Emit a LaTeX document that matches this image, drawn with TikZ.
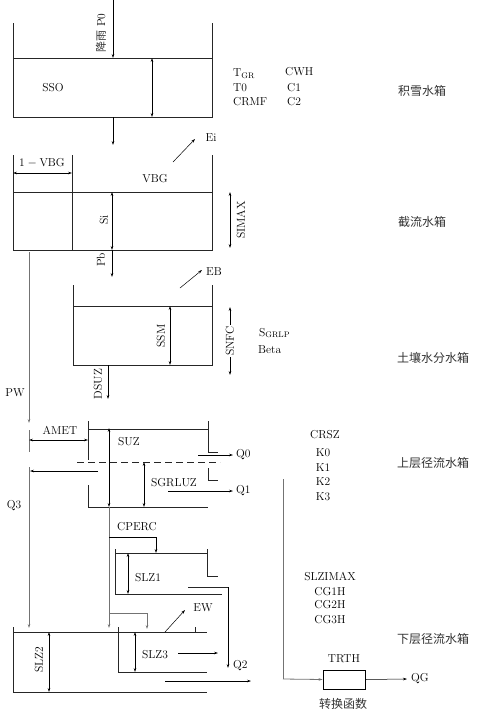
\documentclass[tikz,border=0pt]{standalone}
\usepackage{fontspec}
\newfontfamily\cjk{Noto Sans CJK SC}
\usetikzlibrary{arrows.meta}
\tikzset{
  wall/.style={line width=0.9pt, black!85},
  gline/.style={line width=0.8pt, black!55},
  arr/.style={-{Stealth[length=4pt,width=2.6pt]}, line width=0.5pt},
  garr/.style={-{Stealth[length=4pt,width=2.6pt]}, line width=0.8pt, black!55},
  dbl/.style={{Stealth[length=4pt,width=2.6pt]}-{Stealth[length=4pt,width=2.6pt]}, line width=0.5pt},
  lbl/.style={font=\fontsize{11.5}{12}\selectfont, inner sep=0pt},
  cn/.style={font=\cjk\fontsize{12}{13}\selectfont, inner sep=0pt, anchor=west, text=black!80}
}
\begin{document}
\begin{tikzpicture}[x=1pt,y=-1pt]
\useasboundingbox (0,0) rectangle (477,710);
% ---------- snow box
\draw[wall] (13,23) -- (13,117) -- (212,117) -- (212,23);
\draw[wall] (13,58) -- (212,58);
\coordinate (rain0) at (113,0);
\coordinate (rain1) at (113,58);
\draw[arr] (rain0) -- (rain1);
\node[lbl, rotate=90] (p0) at (101,33) {{\cjk\fontsize{11}{12}\selectfont\color{black!80}降雨} P0};
\node[lbl] (sso) at (53,88) {SSO};
\draw[dbl] (152,58) -- (152,117);
\draw[arr] (113,117) -- (113,145);
\node[lbl, anchor=west] (tgr) at (233,74) {T$_{\mathrm{GR}}$};
\node[lbl, anchor=west] (t0) at (233,88) {T0};
\node[lbl, anchor=west] (crmf) at (233,102) {CRMF};
\node[lbl, anchor=west] (cwh) at (285,72) {CWH};
\node[lbl, anchor=west] (c1) at (287,88) {C1};
\node[lbl, anchor=west] (c2) at (287,102) {C2};
\node[cn] (snowlab) at (398,91) {积雪水箱};
% ---------- interception box
\draw[wall] (13,155) -- (13,250) -- (212,250) -- (212,155);
\draw[wall] (13,192) -- (212,192);
\draw[wall] (72,155) -- (72,250);
\draw[dbl] (13,173) -- (72,173);
\node[lbl] (vbg1) at (42,163) {1${}-{}$VBG};
\node[lbl] (vbg) at (155,179) {VBG};
\draw[dbl] (112,192) -- (112,250);
\node[lbl, rotate=90] (si) at (104,220) {Si};
\draw[arr] (112,250) -- (112,277);
\node[lbl, rotate=90] (pb) at (101,260) {Pb};
\draw[dbl] (230,192) -- (230,248);
\node[lbl, rotate=90] (simax) at (241,220) {SIMAX};
\draw[arr] (173,162) -- (195,139);
\node[lbl] (ei) at (211,138) {Ei};
\node[cn] (intlab) at (398,222) {截流水箱};
% ---------- soil box
\draw[wall] (73,285) -- (73,365) -- (212,365) -- (212,285);
\draw[wall] (73,306) -- (212,306);
\draw[dbl] (170,306) -- (170,365);
\node[lbl, rotate=90] (ssm) at (161,336) {SSM};
\draw[dbl] (230,307) -- node[lbl, rotate=90, fill=white, inner xsep=1.5pt] (snfc) {SNFC} (230,375);
\draw[arr] (180,288) -- (202,270);
\node[lbl] (eb) at (214,272) {EB};
\node[lbl, anchor=west] (sgrlp) at (259,333) {S$_{\mathrm{GRLP}}$};
\node[lbl, anchor=west] (beta) at (258,350) {Beta};
\draw[arr] (108,365) -- (108,399);
\node[lbl, rotate=90] (dsuz) at (98,384) {DSUZ};
\node[cn] (soillab) at (397,358) {土壤水分水箱};
% ---------- PW / Q3 path
\draw[garr] (29,252) -- (29,423);
\node[lbl] (pw) at (15,393) {PW};
\draw[gline] (29,430) -- (29,452);
\draw[garr] (29,467) -- (29,628);
\node[lbl] (q3) at (14,506) {Q3};
\draw[dbl] (29,440) -- (88,440);
\node[lbl] (amet) at (60,430) {AMET};
\draw[arr] (98,471) -- (30,471);
% ---------- upper zone box
\draw[wall] (88,421) -- (88,460);
\draw[wall] (88,485) -- (88,507) -- (208,507);
\draw[wall] (88,429) -- (208,429);
\draw[wall] (208,421) -- (208,452) -- (218,452);
\draw[wall, dashed, dash pattern=on 7pt off 4pt] (77,462) -- (220,462);
\draw[wall] (208,468) -- (208,480) -- (218,480);
\draw[dbl] (109,428) -- (109,507);
\draw[garr] (109,507) -- (109,628);
\node[lbl] (suz) at (129,442) {SUZ};
\draw[dbl] (144,462) -- (144,507);
\node[lbl] (sgrluz) at (174,483) {SGRLUZ};
\draw[arr] (198,455) -- (233,455);
\node[lbl, anchor=west] (q0) at (236,455) {Q0};
\draw[arr] (168,491) -- (233,491);
\node[lbl, anchor=west] (q1) at (236,491) {Q1};
\node[lbl] (crsz) at (325,435) {CRSZ};
\node[lbl] (k0) at (323,453) {K0};
\node[lbl] (k1) at (323,468) {K1};
\node[lbl] (k2) at (323,482) {K2};
\node[lbl] (k3) at (323,497) {K3};
\node[cn] (uplab) at (397,463) {上层径流水箱};
% ---------- lower zone SLZ1
\node[lbl] (cperc) at (137,527) {CPERC};
\draw[arr] (109,537) -- (156,537) -- (156,553);
\draw[wall] (115,549) -- (115,594) -- (222,594);
\draw[wall] (115,553) -- (207,553);
\draw[wall] (207,549) -- (207,576) -- (218,576);
\draw[dbl] (128,553) -- (128,594);
\node[lbl] (slz1) at (148,578) {SLZ1};
\draw[wall] (188,587) -- (228,587);
\draw[arr, line width=0.8pt] (228,587) -- (228,668);
\node[lbl, anchor=west] (q2) at (233,666) {Q2};
\draw[garr] (109,613) -- (147,613) -- (147,629);
% ---------- SLZ2 box
\draw[wall] (13,627) -- (13,692) -- (207,692);
\draw[wall] (13,632) -- (207,632);
\draw[wall] (195,627) -- (195,632);
\draw[wall] (118,627) -- (118,672) -- (207,672);
\draw[dbl] (135,632) -- (135,672);
\node[lbl] (slz3) at (155,655) {SLZ3};
\draw[arr] (178,653) -- (218,653);
\draw[arr] (165,681) -- (251,681);
\draw[dbl] (49,632) -- (49,692);
\node[lbl, rotate=90] (slz2) at (39,660) {SLZ2};
\draw[arr] (165,632) -- (185,610);
\node[lbl] (ew) at (203,608) {EW};
\node[lbl] (slzimax) at (330,577) {SLZIMAX};
\node[lbl] (cg1h) at (330,592) {CG1H};
\node[lbl] (cg2h) at (330,605) {CG2H};
\node[lbl] (cg3h) at (330,620) {CG3H};
\node[cn] (lowlab) at (397,639) {下层径流水箱};
% ---------- transfer function
\node[draw, line width=0.9pt, minimum width=42pt, minimum height=19pt, inner sep=0pt] (trth) at (344,679.5) {};
\node[lbl] (trthlab) at (344,659) {TRTH};
\coordinate (rt) at (283,479);
\draw[gline] (rt) -- (283,679);
\draw[arr, line width=0.8pt, black!55] (283,679) -- (trth.west);
\draw[arr] (trth.east) -- (407,679);
\node[lbl, anchor=west] (qg) at (411,679) {QG};
\node[font=\cjk\fontsize{12}{13}\selectfont, text=black!80, inner sep=0pt] (tf) at (343,704) {转换函数};
\end{tikzpicture}
\end{document}
